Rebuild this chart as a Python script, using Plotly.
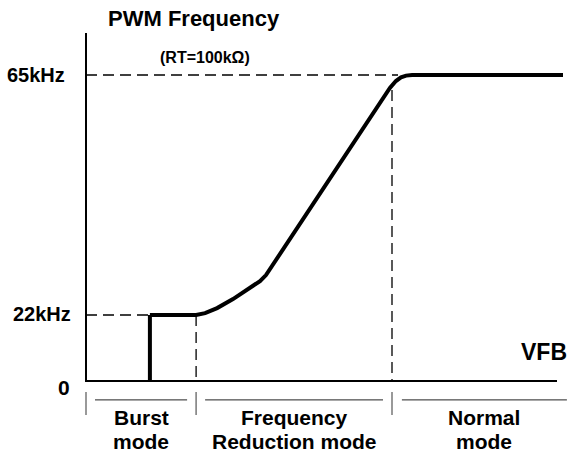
import plotly.graph_objects as go

# schematic units: VFB along x, frequency level along y (not to scale)
burst_vfb = [21.3, 21.3]
burst_freq = [0, 22]

curve_vfb = [21.3, 36.7, 39.7, 43.7, 49, 55.7, 58, 60, 62, 96.3, 99, 101.3,
             103.3, 105, 106.7, 108.7, 159]
curve_freq = [22, 22, 22.6, 24.3, 27.3, 31.7, 33.3, 35.3, 38.3, 90.3, 94.3, 97.7,
              100, 101.2, 101.8, 102, 102]

freq_ticks = [0, 22, 102]
freq_labels = ["0", "22kHz", "65kHz"]

mode_edges = [0, 36.7, 102]
mode_spans = [(3, 33.7), (39.7, 99), (105.3, 160.3)]
mode_top = ["Burst", "Frequency", "Normal"]
mode_bottom = ["mode", "Reduction mode", "mode"]

FONT = "Liberation Sans, Arial, sans-serif"

fig = go.Figure()

# axes drawn as lines
fig.add_trace(go.Scatter(x=[0, 0, 157], y=[116, 0, 0], mode="lines",
                         line=dict(color="black", width=2)))

# dashed guides
dash = "11px,6px"
fig.add_trace(go.Scatter(x=[0, 104], y=[102, 102], mode="lines",
                         line=dict(color="black", width=1.3, dash=dash)))
fig.add_trace(go.Scatter(x=[102, 102], y=[97, 0], mode="lines",
                         line=dict(color="black", width=1.3, dash=dash)))
fig.add_trace(go.Scatter(x=[0, 21.3], y=[22, 22], mode="lines",
                         line=dict(color="black", width=1.3, dash=dash)))
fig.add_trace(go.Scatter(x=[36.7, 36.7], y=[22, 0], mode="lines",
                         line=dict(color="black", width=1.3, dash=dash)))

# frequency curve
fig.add_trace(go.Scatter(x=burst_vfb, y=burst_freq, mode="lines",
                         line=dict(color="black", width=4)))
fig.add_trace(go.Scatter(x=curve_vfb, y=curve_freq, mode="lines",
                         line=dict(color="black", width=4)))

# mode separators below axis
for e in mode_edges:
    fig.add_trace(go.Scatter(x=[e, e], y=[-3.7, -11.3], mode="lines",
                             line=dict(color="#777", width=1.5)))
for a, b in mode_spans:
    fig.add_trace(go.Scatter(x=[a, b], y=[-6.3, -6.3], mode="lines",
                             line=dict(color="#222", width=1)))

annotations = []
tick_x = [-4.7, -4.3, -6.3]
tick_y = [-2.3, 22.3, 102]
for lab, tx, ty in zip(freq_labels, tick_x, tick_y):
    annotations.append(dict(x=tx, y=ty, text=lab, xanchor="right", yanchor="middle",
                            font=dict(size=20 if lab != "0" else 21)))

centers = [(mode_spans[i][0] + mode_spans[i][1]) / 2 for i in range(3)]
for c, t, bt in zip(centers, mode_top, mode_bottom):
    annotations.append(dict(x=c, y=-12, text=t, xanchor="center", yanchor="middle",
                            font=dict(size=21)))
    annotations.append(dict(x=c, y=-20.3, text=bt, xanchor="center", yanchor="middle",
                            font=dict(size=21)))

annotations.append(dict(x=6.7, y=121, text="PWM Frequency", xanchor="left", yanchor="middle",
                        font=dict(size=22)))
annotations.append(dict(x=39.7, y=108, text="(RT=100kΩ)", xanchor="center", yanchor="middle",
                        font=dict(size=16)))
annotations.append(dict(x=161, y=9.7, text="VFB", xanchor="right", yanchor="middle",
                        font=dict(size=23)))

for a in annotations:
    a.update(xref="x", yref="y", showarrow=False)
    a["font"].update(family=FONT, color="black", weight="bold")
    a["text"] = "<b>" + a["text"] + "</b>"

fig.update_layout(
    width=572,
    height=454,
    margin=dict(l=0, r=0, t=0, b=0),
    showlegend=False,
    plot_bgcolor="white",
    paper_bgcolor="white",
    xaxis=dict(visible=False, range=[-28.667, 162], fixedrange=True),
    yaxis=dict(visible=False, range=[-24.333, 127], fixedrange=True),
    annotations=annotations,
)

fig.write_html("out.html", config={"displayModeBar": False},
               post_script="document.body.style.margin='0';")
